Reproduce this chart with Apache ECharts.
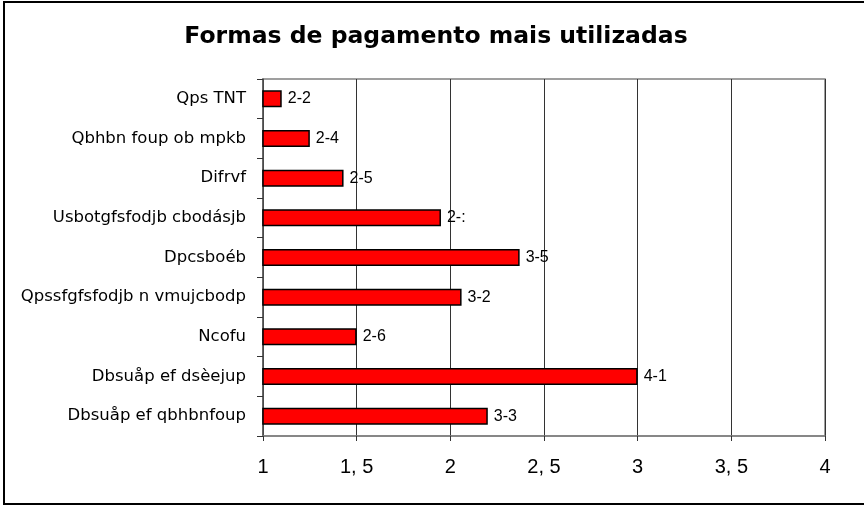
<!DOCTYPE html>
<html>
<head>
    <meta charset="UTF-8">
    <title>Formas de pagamento</title>
    <style type="text/css">
        html, body { margin: 0; padding: 0; background: #fff; }
        #chart { width: 864px; height: 506px; }
    </style>
    <script type="text/javascript" src="https://cdn.jsdelivr.net/npm/echarts@6/dist/echarts.min.js"></script>
</head>
<body>
<div id="chart"></div>
<script>
    // categories, top to bottom, as they appear on the picture
    let categories = ['Qps TNT', 'Qbhbn foup ob mpkb', 'Difrvf', 'Usbotgfsfodjb cbodásjb', 'Dpcsboéb',
        'Qpssfgfsfodjb n vmujcbodp', 'Ncofu', 'Dbsuåp ef dsèejup', 'Dbsuåp ef qbhbnfoup'];
    let values = [1.1, 1.25, 1.43, 1.95, 2.37, 2.06, 1.5, 3.0, 2.2];
    let valueLabels = ['2-2', '2-4', '2-5', '2-:', '3-5', '3-2', '2-6', '4-1', '3-3'];
    let xTicks = [1, 1.5, 2, 2.5, 3, 3.5, 4];

    let myChart = echarts.init(document.getElementById('chart'));

    let option = {
        animation: false,
        backgroundColor: '#fff',
        title: {
            text: 'Formas de pagamento mais utilizadas',
            left: 431,
            top: 20,
            textAlign: 'center',
            textStyle: {
                fontFamily: 'DejaVu Sans',
                fontWeight: 'bold',
                fontSize: 23.5,
                color: '#000'
            }
        },
        graphic: [{
            type: 'rect',
            shape: { x: 4, y: 2, width: 880, height: 502 },
            style: { fill: 'none', stroke: '#000', lineWidth: 2 },
            silent: true
        }],
        grid: {
            left: 263,
            right: 39,
            top: 79,
            bottom: 70,
            show: true,
            borderColor: '#808080',
            borderWidth: 1.5
        },
        xAxis: {
            type: 'value',
            min: 1,
            max: 4,
            interval: 0.5,
            axisLine: { show: true, lineStyle: { color: '#808080', width: 1.5 } },
            axisTick: { show: true, length: 5, lineStyle: { color: '#333' } },
            splitLine: { show: true, lineStyle: { color: '#333', width: 1 } },
            axisLabel: {
                margin: 21,
                fontFamily: 'Liberation Sans',
                fontSize: 20,
                color: '#000',
                formatter: function (v) {
                    let t = xTicks.find(function (x) { return Math.abs(x - v) < 1e-9; });
                    return t === undefined ? '' : String(t).replace('.', ', ');
                }
            }
        },
        yAxis: {
            type: 'category',
            inverse: true,
            data: categories,
            axisLine: { show: true, lineStyle: { color: '#555', width: 1.5 } },
            axisTick: { show: true, length: 6, lineStyle: { color: '#333' } },
            axisLabel: {
                margin: 17,
                fontFamily: 'DejaVu Sans',
                fontSize: 16.5,
                color: '#000'
            }
        },
        series: [{
            type: 'bar',
            data: values,
            barWidth: 17,
            itemStyle: {
                color: '#ff0000',
                borderColor: '#000',
                borderWidth: 1.5
            },
            label: {
                show: true,
                position: 'right',
                distance: 6,
                fontFamily: 'Liberation Sans',
                fontSize: 16,
                color: '#000',
                formatter: function (p) { return valueLabels[p.dataIndex]; }
            }
        }]
    };

    myChart.setOption(option);
</script>
</body>
</html>
